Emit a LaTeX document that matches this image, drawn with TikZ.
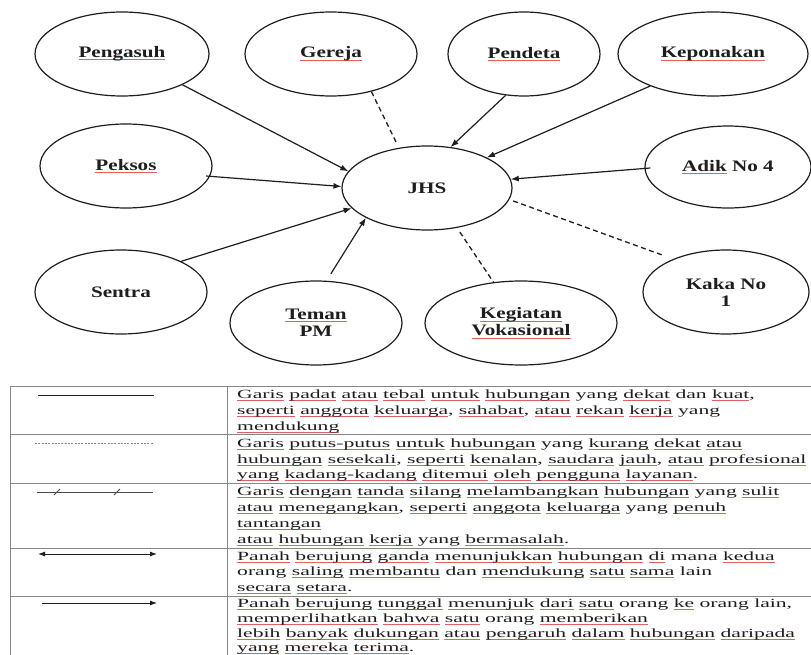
\documentclass[tikz,border=0pt]{standalone}
\usepackage{fontspec}
\usetikzlibrary{arrows.meta,shapes.geometric}
\setmainfont{Liberation Serif}
\newfontfamily\tabfont{Liberation Serif}[FakeStretch=1.73]
\newfontfamily\labfont{Liberation Serif}[FakeStretch=1.32]
\definecolor{spell}{RGB}{228,95,95}
\definecolor{ink}{RGB}{30,30,30}
\definecolor{rulegray}{RGB}{135,135,135}
\newsavebox\sqbox
\newcommand\sq[1]{\leavevmode\sbox\sqbox{#1}\rlap{\textcolor{spell}{\rule[-2.4pt]{\wd\sqbox}{0.7pt}}}\usebox\sqbox}
\begin{document}
\begin{tikzpicture}[x=1pt,y=-1pt,
  ell/.style={draw=ink, line width=1.2pt, ellipse, inner sep=0pt, align=center,
    text=ink, font=\labfont\bfseries\fontsize{16}{17}\selectfont, minimum height=84pt},
  arr/.style={draw=ink, line width=1.2pt, -{Latex[length=8pt,width=6pt]}},
  dsh/.style={draw=ink, line width=1.3pt, dash pattern=on 5pt off 3.5pt},
  tabline/.style={draw=rulegray, line width=0.9pt},
  tt/.style={anchor=base west, inner sep=0pt, text=ink, font=\tabfont\fontsize{12.5}{16}\selectfont}]
\useasboundingbox (0,0) rectangle (811,655);
\clip (0,0) rectangle (811,655);
\fill[white] (0,0) rectangle (811,655);

% diagram nodes
\node[ell, minimum width=174pt] (peng) at (122,54) {\sq{Pengasuh}};
\node[ell, minimum width=172pt] (ger) at (331,54) {\sq{Gereja}};
\node[ell, minimum width=152pt] (pend) at (524,54) {\sq{Pendeta}};
\node[ell, minimum width=190pt] (kep) at (713,54) {\sq{Keponakan}};
\node[ell, minimum width=172pt] (peks) at (126,166) {\sq{Peksos}};
\node[ell, minimum width=166pt, minimum height=82pt] (adik) at (728,167) {\sq{Adik} No 4};
\node[ell, minimum width=170pt] (jhs) at (427,188) {JHS};
\node[ell, minimum width=172pt] (sen) at (121,292) {Sentra};
\node[ell, minimum width=172pt] (tem) at (316,323) {\sq{Teman}\\PM};
\node[ell, minimum width=192pt] (keg) at (521,323) {\sq{Kegiatan}\\\sq{Vokasional}};
\node[ell, minimum width=166pt] (kaka) at (726,292) {Kaka No\\1};

% connectors
\draw[arr] (peng.-27) -- (jhs.168);
\draw[dsh, shorten >=5pt] (ger.-43) -- (jhs.125);
\draw[arr] (pend.246) -- (jhs.60);
\draw[arr] (kep.207) -- (jhs.27);
\draw[arr, shorten <=-4pt] (peks.-7.5) -- (jhs.179);
\draw[arr, shorten <=-6pt] (adik.181) -- (jhs.6.5);
\draw[arr] (sen.27) -- (jhs.195);
\draw[arr, shorten <=8pt] (tem.76) -- (jhs.206);
\draw[dsh, shorten <=5pt] (jhs.-53) -- (keg.124);
\draw[dsh, shorten <=4pt, shorten >=12pt] (jhs.-8) -- (kaka.148);

% table grid
\draw[tabline] (10,386) -- (820,386);
\draw[tabline] (10,434) -- (820,434);
\draw[tabline] (10,483) -- (820,483);
\draw[tabline] (10,548) -- (820,548);
\draw[tabline] (10,596) -- (820,596);
\draw[tabline] (10,386) -- (10,660);
\draw[tabline] (227,386) -- (227,660);

% legend symbols
\coordinate (s1a) at (38,395);  \coordinate (s1b) at (154,395);
\coordinate (s2a) at (35,443);  \coordinate (s2b) at (153,443);
\coordinate (s3a) at (37,492);  \coordinate (s3b) at (153,492);
\coordinate (s4a) at (38,554);  \coordinate (s4b) at (157,554);
\coordinate (s5a) at (42,603);  \coordinate (s5b) at (157,603);
\draw[draw=ink, line width=0.9pt] (s1a) -- (s1b);
\draw[draw=rulegray, line width=0.7pt, dash pattern=on 2pt off 1.3pt] (s2a) -- (s2b);
\draw[draw=ink!80, line width=0.8pt] (s3a) -- (s3b);
\draw[draw=ink!80, line width=0.8pt] (54,495) -- (60,489);
\draw[draw=ink!80, line width=0.8pt] (114,495) -- (120,489);
\draw[draw=ink, line width=0.9pt, {Latex[length=7pt,width=5pt]}-{Latex[length=7pt,width=5pt]}] (s4a) -- (s4b);
\draw[draw=ink, line width=0.9pt, -{Latex[length=7pt,width=5pt]}] (s5a) -- (s5b);

% table text
\node[tt] (r1a) at (237,398) {\sq{Garis} \sq{padat} \sq{atau} \sq{tebal} \sq{untuk} \sq{hubungan} yang \sq{dekat} dan \sq{kuat},};
\node[tt] (r1b) at (237,414) {\sq{seperti} \sq{anggota} \sq{keluarga}, \sq{sahabat}, \sq{atau} \sq{rekan} \sq{kerja} yang};
\node[tt] (r1c) at (237,430) {\sq{mendukung}};
\node[tt] (r2a) at (237,447) {\sq{Garis} \sq{putus-putus} \sq{untuk} \sq{hubungan} yang \sq{kurang} \sq{dekat} \sq{atau}};
\node[tt] (r2b) at (237,463) {\sq{hubungan} \sq{sesekali}, \sq{seperti} \sq{kenalan}, \sq{saudara} \sq{jauh}, \sq{atau} \sq{profesional}};
\node[tt] (r2c) at (237,478) {\sq{yang} \sq{kadang-kadang} \sq{ditemui} \sq{oleh} \sq{pengguna} \sq{layanan}.};
\node[tt] (r3a) at (237,495) {\sq{Garis} \sq{dengan} \sq{tanda} \sq{silang} \sq{melambangkan} \sq{hubungan} yang \sq{sulit}};
\node[tt] (r3b) at (237,511) {\sq{atau} \sq{menegangkan}, \sq{seperti} \sq{anggota} \sq{keluarga} yang \sq{penuh}};
\node[tt] (r3c) at (237,527) {\sq{tantangan}};
\node[tt] (r3d) at (237,543) {\sq{atau} \sq{hubungan} \sq{kerja} yang \sq{bermasalah}.};
\node[tt] (r4a) at (237,560) {\sq{Panah} \sq{berujung} \sq{ganda} \sq{menunjukkan} \sq{hubungan} \sq{di} mana \sq{kedua}};
\node[tt] (r4b) at (237,575) {orang \sq{saling} \sq{membantu} dan \sq{mendukung} \sq{satu} \sq{sama} lain};
\node[tt] (r4c) at (237,591) {\sq{secara} \sq{setara}.};
\node[tt] (r5a) at (237,607) {\sq{Panah} \sq{berujung} \sq{tunggal} \sq{menunjuk} \sq{dari} \sq{satu} orang \sq{ke} orang lain,};
\node[tt] (r5b) at (237,622) {\sq{memperlihatkan} \sq{bahwa} \sq{satu} orang \sq{memberikan}};
\node[tt] (r5c) at (237,637) {\sq{lebih} \sq{banyak} \sq{dukungan} \sq{atau} \sq{pengaruh} \sq{dalam} \sq{hubungan} \sq{daripada}};
\node[tt] (r5d) at (237,651) {\sq{yang} \sq{mereka} \sq{terima}.};
\end{tikzpicture}
\end{document}
